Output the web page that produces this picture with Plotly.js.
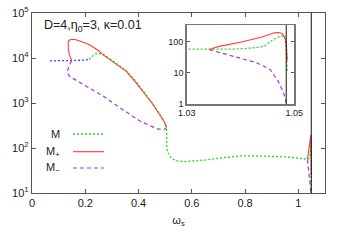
<!DOCTYPE html>
<html>
<head>
<meta charset="utf-8">
<script src="https://cdn.plot.ly/plotly-3.0.1.min.js"></script>
<style>html,body{margin:0;padding:0;background:#fff;}#plot{width:346px;height:242px;}</style>
</head>
<body>
<div id="plot"></div>
<script>
// ---- data (omega_s, mass) ----
const blueX = [0.068, 0.10, 0.130, 0.149, 0.175, 0.195, 0.215];
const blueY = [8600, 8620, 8650, 8700, 8800, 8950, 9300];

const mX = [0.215, 0.224, 0.236, 0.249, 0.262, 0.274, 0.30, 0.33, 0.355, 0.385, 0.417, 0.45, 0.48, 0.495, 0.505,
            0.505, 0.506, 0.510, 0.518, 0.530, 0.549, 0.574, 0.649, 0.711, 0.786, 0.874, 0.961, 1.024,
            1.030, 1.034, 1.038, 1.041, 1.043, 1.0445, 1.0455, 1.047, 1.0482, 1.0485, 1.0487];
const mY = [9300, 10700, 12300, 12600, 12300, 11500, 8900, 6700, 5200, 3300, 1850, 1050, 560, 410, 285,
            150, 98, 80, 65, 56, 51, 50, 54, 60, 67, 66, 63, 57,
            56, 56, 57, 60, 64, 72, 100, 140, 150, 60, 10];

const mPlusX = [0.149, 0.140, 0.136, 0.136, 0.140, 0.149, 0.165, 0.18, 0.20, 0.2175, 0.25, 0.267, 0.286, 0.32, 0.355, 0.385, 0.417, 0.45, 0.48, 0.495, 0.505,
                null,
                1.0342, 1.036, 1.040, 1.044, 1.0463, 1.0470, 1.0477, 1.0482, 1.0485, 1.0486, 1.0487];
const mPlusY = [8700, 12000, 16700, 22800, 24800, 26000, 25500, 24000, 21500, 19500, 14500, 11700, 9800, 7000, 5000, 3100, 1780, 1000, 540, 400, 285,
                null,
                56, 70, 95, 140, 190, 195, 180, 140, 90, 40, 25];

const mMinusX = [0.149, 0.140, 0.132, 0.140, 0.149, 0.174, 0.199, 0.224, 0.267, 0.311, 0.355, 0.405, 0.449, 0.474, 0.499, 0.505,
                 null,
                 1.0342, 1.0362, 1.0399, 1.043, 1.0455, 1.047, 1.048, 1.0485];
const mMinusY = [8700, 6900, 4810, 4000, 3650, 2970, 2420, 2050, 1430, 935, 621, 398, 303, 264, 264, 280,
                 null,
                 55, 44, 30, 21, 12.8, 5.4, 2.3, 1.1];

const critOmega = 1.0485;

const mainXTicks = [0, 0.2, 0.4, 0.6, 0.8, 1];
const mainYTicks = [10, 100, 1000, 10000, 100000];
const mainYTickText = ['10<sup>1</sup>', '10<sup>2</sup>', '10<sup>3</sup>', '10<sup>4</sup>', '10<sup>5</sup>'];
const insetXTicks = [1.03, 1.05];
const insetYTicks = [1, 10, 100];
const insetYTickText = ['1', '10', '100'];

const legendNames = ['M', 'M<sub>+</sub>', 'M<sub>\u2212</sub>'];
const titleText = 'D=4,\u03b7<sub>0</sub>=3, \u03ba=0.01';

// ---- styles ----
const cGreen = '#22dd22', cRed = '#ff3a3a', cPurple = '#9a3ae6', cBlue = '#3b3bff';
const greenLine = {color: cGreen, width: 1.3, dash: '2px,2px'};
const redLine = {color: cRed, width: 1.1};
const purpleLine = {color: cPurple, width: 1.2, dash: '4px,3px'};
const blueLine = {color: cBlue, width: 1.3, dash: '2px,2px'};

function tr(x, y, line, xa, ya) {
  return {x: x, y: y, type: 'scatter', mode: 'lines', line: line, xaxis: xa, yaxis: ya,
          showlegend: false, hoverinfo: 'skip', connectgaps: false};
}

const data = [
  tr(blueX, blueY, blueLine, 'x', 'y'),
  tr(mMinusX, mMinusY, purpleLine, 'x', 'y'),
  tr(mX, mY, greenLine, 'x', 'y'),
  tr(mPlusX, mPlusY, redLine, 'x', 'y'),
  tr(mMinusX, mMinusY, purpleLine, 'x2', 'y2'),
  tr(mX, mY, greenLine, 'x2', 'y2'),
  tr(mPlusX, mPlusY, redLine, 'x2', 'y2')
];

// plot area geometry in px (for paper coords)
const L = 32, R = 325, T = 13, B = 193;
const px2x = p => (p - L) / (R - L);
const py2y = p => (B - p) / (B - T);

const font = {family: 'Liberation Sans, Arial, sans-serif', size: 11, color: '#222'};
const titleFont = {family: font.family, size: 12.5, color: '#222'};
const axisCol = '#555';

const legendY = [134, 151.7, 168];
const legendLines = [greenLine, redLine, purpleLine];

const shapes = [
  {type: 'line', xref: 'x', yref: 'y domain', x0: critOmega, x1: critOmega, y0: 0, y1: 1,
   line: {color: '#111', width: 1}},
  {type: 'line', xref: 'x2', yref: 'y2 domain', x0: critOmega, x1: critOmega, y0: 0, y1: 1,
   line: {color: '#111', width: 1}}
];
legendY.forEach((py, i) => {
  shapes.push({type: 'line', xref: 'paper', yref: 'paper', x0: px2x(73), x1: px2x(104),
               y0: py2y(py), y1: py2y(py), line: legendLines[i]});
});

const annotations = [
  {text: titleText, xref: 'paper', yref: 'paper', x: px2x(42), y: py2y(26), xanchor: 'left', yanchor: 'middle',
   showarrow: false, font: titleFont}
];
legendY.forEach((py, i) => {
  annotations.push({text: legendNames[i], xref: 'paper', yref: 'paper', x: px2x(62), y: py2y(py),
                    xanchor: 'right', yanchor: 'middle', showarrow: false, font: font});
});

const layout = {
  width: 346, height: 242,
  margin: {l: L, r: 346 - R, t: T, b: 242 - B},
  paper_bgcolor: '#fff', plot_bgcolor: 'rgba(0,0,0,0)',
  font: font,
  showlegend: false,
  xaxis: {
    range: [0, 1.1], domain: [0, 1], tickvals: mainXTicks, ticktext: mainXTicks.map(String),
    ticks: 'inside', ticklen: 4, tickcolor: axisCol, showline: true, linecolor: axisCol, linewidth: 1.2,
    mirror: 'ticks', showgrid: false, zeroline: false, tickfont: font,
    title: {text: '\u03c9<sub>s</sub>', font: font, standoff: 7}
  },
  yaxis: {
    type: 'log', range: [1, 5], domain: [0, 1], tickvals: mainYTicks, ticktext: mainYTickText,
    ticks: 'inside', ticklen: 4, tickcolor: axisCol, showline: true, linecolor: axisCol, linewidth: 1.2,
    mirror: 'ticks', showgrid: false, zeroline: false, tickfont: font
  },
  xaxis2: {
    anchor: 'y2', range: [1.03, 1.05],
    domain: [px2x(186.7), px2x(294.3)],
    tickvals: insetXTicks, ticktext: insetXTicks.map(v => v.toFixed(2)),
    ticks: '', showline: true, linecolor: '#777', linewidth: 1.5, mirror: true,
    showgrid: false, zeroline: false, tickfont: {family: font.family, size: 9, color: '#222'}
  },
  yaxis2: {
    anchor: 'x2', type: 'log', range: [0, 2.53],
    domain: [py2y(104), py2y(25)],
    tickvals: insetYTicks, ticktext: insetYTickText,
    ticks: 'inside', ticklen: 3, tickcolor: '#555', showline: true, linecolor: '#777', linewidth: 1.5,
    mirror: 'ticks', showgrid: false, zeroline: false, tickfont: {family: font.family, size: 9, color: '#222'}
  },
  shapes: shapes,
  annotations: annotations
};

Plotly.newPlot('plot', data, layout, {displayModeBar: false, staticPlot: true});
</script>
</body>
</html>
